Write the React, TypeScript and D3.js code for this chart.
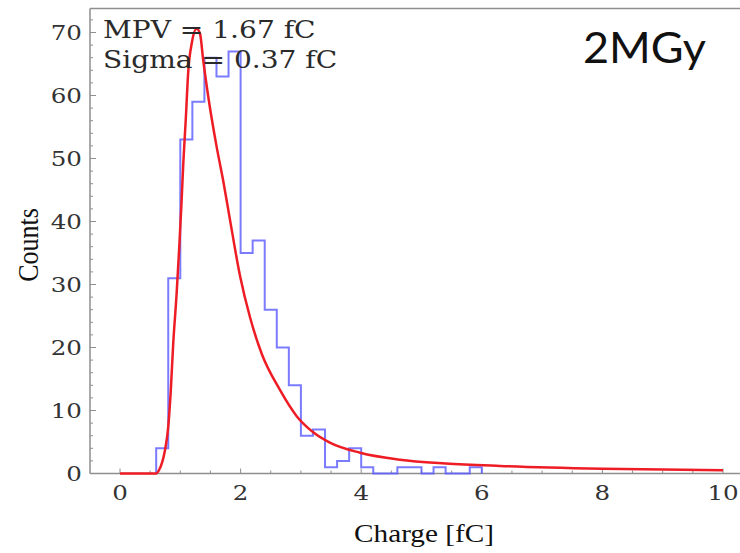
import React from "react";
import * as d3 from "d3";

// Histogram: lower bin edges (fC) and counts
const binLo = [0.6, 0.8, 1.0, 1.2, 1.4, 1.6, 1.8, 2.0, 2.2, 2.4, 2.6, 2.8, 3.0, 3.2, 3.4, 3.6, 3.8, 4.0, 4.2, 4.4, 4.6, 4.8, 5.0, 5.2, 5.4, 5.6, 5.8];
const binWidth = 0.2;
const counts = [4, 31, 53, 59, 66, 63, 67, 35, 37, 26, 20, 14, 6, 7, 1, 2, 4, 1, 0, 0, 1, 1, 0, 1, 0, 0, 1];

// Fit curve
const fitX = [0, 0.6, 0.65, 0.7, 0.746, 0.8, 0.84, 0.883, 0.94, 0.983, 1.02, 1.05, 1.09, 1.133, 1.19, 1.27, 1.327, 1.38, 1.464, 1.6, 1.713, 1.82, 1.99, 2.156, 2.35, 2.65, 2.93, 3.21, 3.48, 3.98, 4.64, 5.4, 6.3, 8.0, 10.0];
const fitY = [0, 0, 0.6, 1.8, 3.7, 7.4, 12.8, 20.7, 28.7, 36, 43, 49.3, 56.1, 64, 68.3, 70.6, 69.8, 65.6, 59.8, 52, 46.4, 40.5, 31.4, 24.8, 19, 13.3, 9.1, 6.5, 4.9, 3.3, 2.2, 1.6, 1.2, 0.75, 0.5];

const xTickLabels = [0, 2, 4, 6, 8, 10];
const yTickLabels = [0, 10, 20, 30, 40, 50, 60, 70];
const annotations = ["MPV = 1.67 fC", "Sigma = 0.37 fC"];
const tag = "2MGy";
const xLabel = "Charge [fC]";
const yLabel = "Counts";

export default function App() {
  const W = 740, H = 553;
  const x = d3.scaleLinear().domain([0, 10]).range([120, 723]);
  const y = d3.scaleLinear().domain([0, 70]).range([473.5, 32.5]);
  const left = 90, top = 8.5, bottom = y(0), right = 740;
  const SX = 1.17;
  const axisColor = "#8e8e8e";
  const serif = "'DejaVu Serif', serif";
  const times = "'Liberation Serif', 'Times New Roman', serif";

  const histPts: [number, number][] = [[binLo[0], 0]];
  binLo.forEach((lo, i) => {
    histPts.push([lo, counts[i]]);
    histPts.push([lo + binWidth, counts[i]]);
  });
  histPts.push([binLo[binLo.length - 1] + binWidth, 0]);
  const histLine = d3.line<[number, number]>().x(d => x(d[0])).y(d => y(d[1]));

  const fitPts: [number, number][] = fitX.map((v, i) => [v, fitY[i]]);
  const fitLine = d3.line<[number, number]>().x(d => x(d[0])).y(d => y(d[1])).curve(d3.curveMonotoneX);

  const xMinor = d3.range(0, 10.01, 0.5);
  const yMinor = d3.range(0, 72.01, 2);

  return (
    <svg width={W} height={H} style={{ position: "absolute", left: 0, top: 0, background: "#fff" }}>
      {/* frame */}
      <line x1={left} y1={top} x2={right} y2={top} stroke={axisColor} strokeWidth={1.5} />
      <line x1={left} y1={top} x2={left} y2={bottom} stroke={axisColor} strokeWidth={1.5} />
      <line x1={left} y1={bottom} x2={right} y2={bottom} stroke={axisColor} strokeWidth={1.5} />
      {/* y ticks */}
      {yMinor.map(v => (
        <line key={"ym" + v} x1={left} x2={left + (v % 10 === 0 ? 6 : 3)} y1={y(v)} y2={y(v)} stroke={axisColor} strokeWidth={1} />
      ))}
      {yTickLabels.map(v => (
        <text key={"yl" + v} transform={`translate(82,${y(v)}) scale(${SX},1)`} textAnchor="end" dominantBaseline="central"
          fontFamily={serif} fontSize={21} fill="#333">{v}</text>
      ))}
      {/* x ticks */}
      {xMinor.map(v => (
        <line key={"xm" + v} x1={x(v)} x2={x(v)} y1={bottom} y2={bottom - (v % 2 === 0 ? 5 : 3)} stroke={axisColor} strokeWidth={1} />
      ))}
      {xTickLabels.map(v => (
        <text key={"xl" + v} transform={`translate(${x(v)},500) scale(${SX},1)`} textAnchor="middle"
          fontFamily={serif} fontSize={21} fill="#333">{v}</text>
      ))}
      {/* histogram */}
      <path d={histLine(histPts) || ""} fill="none" stroke="#5a5aff" strokeWidth={2} strokeOpacity={0.8} />
      {/* fit */}
      <path d={fitLine(fitPts) || ""} fill="none" stroke="#ee1c24" strokeWidth={2.5} />
      {/* annotations */}
      {annotations.map((t, i) => (
        <text key={t} transform={`translate(103,${38 + i * 30}) scale(${SX},1)`} fontFamily={serif} fontSize={24} fill="#2a2a2a">{t}</text>
      ))}
      <text x={583} y={63} fontFamily="Lato, 'Open Sans', sans-serif" fontSize={42} fill="#111"
        textLength={123} lengthAdjust="spacingAndGlyphs">{tag}</text>
      {/* axis labels */}
      <text transform={`translate(424,542) scale(${SX},1)`} textAnchor="middle" fontFamily={times} fontSize={25} fill="#111">{xLabel}</text>
      <text transform={`translate(38,245) scale(${SX},1) rotate(-90)`} textAnchor="middle" fontFamily={times} fontSize={26} fill="#111">{yLabel}</text>
    </svg>
  );
}
